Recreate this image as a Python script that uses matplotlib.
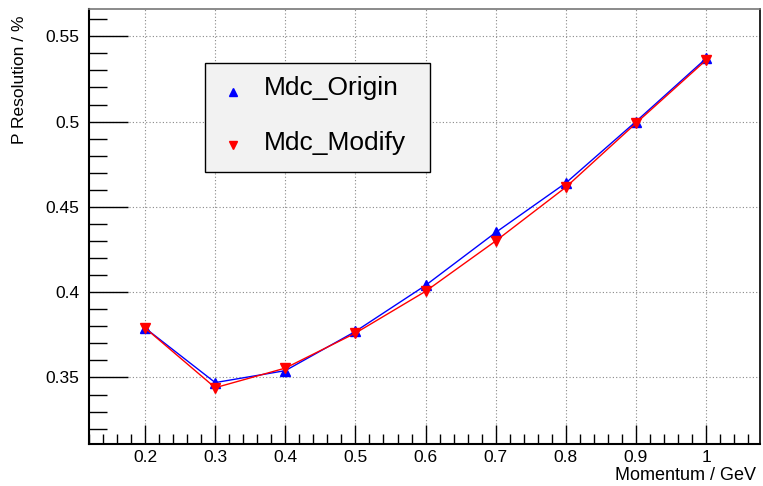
import matplotlib
matplotlib.use("Agg")
import matplotlib.pyplot as plt
from matplotlib.ticker import MultipleLocator
from matplotlib.patches import Rectangle

momentum = [0.2, 0.3, 0.4, 0.5, 0.6, 0.7, 0.8, 0.9, 1.0]
mdc_origin = [0.379, 0.347, 0.354, 0.377, 0.404, 0.435, 0.464, 0.500, 0.537]
mdc_modify = [0.379, 0.344, 0.3555, 0.376, 0.4005, 0.430, 0.4615, 0.499, 0.536]

plt.rcParams['font.family'] = ['Liberation Sans', 'DejaVu Sans']

W, H = 763, 486
fig = plt.figure(figsize=(W / 100, H / 100), dpi=100)
l, r, t, b = 89, 760, 9, 444
ax = fig.add_axes([l / W, 1 - b / H, (r - l) / W, (b - t) / H])

ax.plot(momentum, mdc_origin, color='blue', lw=1.0, marker='^', ms=7,
        mec='blue', mfc='blue', label='Mdc_Origin', zorder=3)
ax.plot(momentum, mdc_modify, color='red', lw=1.0, marker='v', ms=7,
        mec='red', mfc='red', label='Mdc_Modify', zorder=4)

ax.set_xlim(0.12, 1.077)
ax.set_ylim(0.311, 0.566)
ax.xaxis.set_major_locator(MultipleLocator(0.1))
ax.xaxis.set_minor_locator(MultipleLocator(0.02))
ax.yaxis.set_major_locator(MultipleLocator(0.05))
ax.yaxis.set_minor_locator(MultipleLocator(0.01))
ax.set_xticks([0.2, 0.3, 0.4, 0.5, 0.6, 0.7, 0.8, 0.9, 1.0])
ax.set_xticklabels(['0.2', '0.3', '0.4', '0.5', '0.6', '0.7', '0.8', '0.9', '1'])
ax.set_yticks([0.35, 0.4, 0.45, 0.5, 0.55])
ax.set_yticklabels(['0.35', '0.4', '0.45', '0.5', '0.55'])

ax.tick_params(axis='both', which='major', direction='in', labelsize=12.5)
ax.tick_params(axis='y', which='major', length=28, width=1.0, pad=7)
ax.tick_params(axis='y', which='minor', direction='in', length=13, width=1.0)
ax.tick_params(axis='x', which='major', length=14, width=1.0, pad=4)
ax.tick_params(axis='x', which='minor', direction='in', length=7, width=1.0)

ax.grid(True, which='major', ls=(0, (1, 2)), color='#888888', lw=0.8)
ax.set_axisbelow(True)

for s in ['left', 'bottom']:
    ax.spines[s].set_linewidth(1.5)
    ax.spines[s].set_color('black')
ax.spines['top'].set_color('#777777')
ax.spines['top'].set_linewidth(1.2)
ax.spines['right'].set_color('black')
ax.spines['right'].set_linewidth(1.2)

fig.text(20 / W, 1 - 15 / H, 'P Resolution / %', rotation=90, ha='center', va='top', fontsize=12.5)
fig.text(756 / W, 1 - 480 / H, 'Momentum / GeV', ha='right', va='baseline', fontsize=13)

# legend box
lx0, lx1, ly0, ly1 = 205, 430, 63, 172
rect = Rectangle((lx0 / W, 1 - ly1 / H), (lx1 - lx0) / W, (ly1 - ly0) / H,
                 transform=fig.transFigure, facecolor='#f2f2f2', edgecolor='black', lw=1.0, zorder=10)
fig.add_artist(rect)
fig.add_artist(plt.Line2D([233 / W], [1 - 92 / H], marker='^', color='blue', ms=6,
                          transform=fig.transFigure, zorder=11))
fig.add_artist(plt.Line2D([233 / W], [1 - 145 / H], marker='v', color='red', ms=6,
                          transform=fig.transFigure, zorder=11))
fig.text(264 / W, 1 - 88 / H, 'Mdc_Origin', fontsize=19, ha='left', va='center', zorder=12)
fig.text(264 / W, 1 - 143 / H, 'Mdc_Modify', fontsize=19, ha='left', va='center', zorder=12)

fig.savefig('out.png', dpi=100)
